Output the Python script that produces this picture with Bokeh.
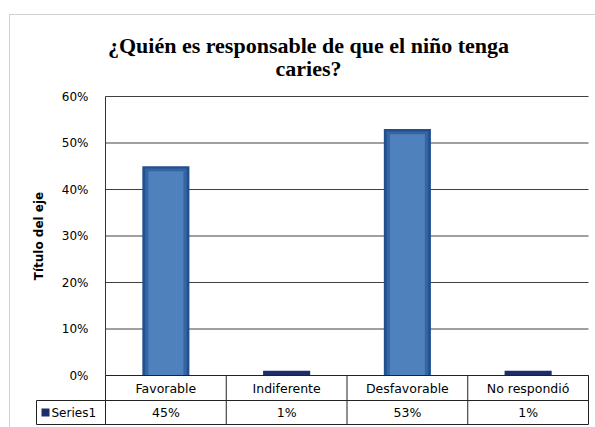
import numpy as np
from bokeh.plotting import figure
from bokeh.models import (Range1d, FixedTicker, NumeralTickFormatter, LinearAxis,
                          BoxAnnotation, Label, ColumnDataSource)
from bokeh.core.properties import value
from bokeh.embed import file_html
from bokeh.resources import INLINE

# ---- data ----
title_lines = ["¿Quién es responsable de que el niño tenga", "caries?"]
categories = ["Favorable", "Indiferente", "Desfavorable", "No respondió"]
values = [0.45, 0.01, 0.53, 0.01]
y_ticks = [0.0, 0.1, 0.2, 0.3, 0.4, 0.5, 0.6]
series_name = "Series1"
y_axis_title = "Título del eje"

# ---- layout (page pixels -> data units) ----
W, H = 595, 427
PLOT_L, PLOT_R, PLOT_T, PLOT_B = 105, 588, 96, 375
n = len(categories)
PXX = (PLOT_R - PLOT_L) / n            # px per category
PXY = (PLOT_B - PLOT_T) / y_ticks[-1]  # px per y unit

def dx(px):
    return (px - PLOT_L) / PXX

def dy(py):
    return (PLOT_B - py) / PXY

ROW_SPLIT = dy(400)
TABLE_BOTTOM = dy(424)
SERIF = "'Liberation Serif', 'Times New Roman', Times, serif"

p = figure(width=W, height=H,
           x_range=Range1d(dx(0), dx(W)), y_range=Range1d(dy(H), dy(0)),
           output_backend="svg", toolbar_location=None,
           x_axis_location=None, y_axis_location=None,
           min_border=0, min_border_left=0, min_border_right=0,
           min_border_top=0, min_border_bottom=0)
p.outline_line_color = None
p.background_fill_color = "white"
p.border_fill_color = "white"
p.xgrid.visible = False
p.ygrid.visible = False

# category positions from the category index
xs = np.arange(n) + 0.5

# ---- gridlines ----
p.segment(x0=[0] * len(y_ticks), x1=[n] * len(y_ticks), y0=y_ticks, y1=y_ticks,
          line_color="#404040", line_width=1)

# ---- y axis ----
ax = LinearAxis(fixed_location=0, bounds=(0, y_ticks[-1]))
ax.ticker = FixedTicker(ticks=y_ticks)
ax.formatter = NumeralTickFormatter(format="0%")
ax.major_tick_line_color = None
ax.minor_tick_line_color = None
ax.major_tick_out = 0
ax.major_tick_in = 0
ax.major_label_standoff = 17
ax.major_label_text_font = "DejaVu Sans"
ax.major_label_text_font_size = "12px"
ax.major_label_text_color = "black"
ax.axis_line_color = "#333333"
ax.axis_label = y_axis_title
ax.axis_label_text_font = "DejaVu Sans"
ax.axis_label_text_font_style = "bold"
ax.axis_label_text_font_size = "12px"
ax.axis_label_text_color = "black"
ax.axis_label_standoff = 13
p.add_layout(ax, "left")

# ---- bars (layered to imitate the gradient) ----
v = np.array(values)
big = v > 0.02
src = ColumnDataSource(dict(
    x=xs,
    top=v,
    top2=np.where(big, v - 0.005, 0.0),
    top3=np.where(big, v - 0.011, 0.0),
    c1=np.where(big, "#22508E", "#1C2D6B"),
))
p.vbar(x="x", top="top", bottom=0, width=0.39, source=src,
       fill_color="c1", line_color=None)
p.vbar(x="x", top="top2", bottom=0, width=0.345, source=src,
       fill_color="#3565A4", line_color=None)
p.vbar(x="x", top="top3", bottom=0, width=0.29, source=src,
       fill_color="#4F81BD", line_color=None)

# ---- data table below the plot ----
bounds = list(range(n + 1))
p.segment(x0=bounds, x1=bounds, y0=[0] * (n + 1), y1=[TABLE_BOTTOM] * (n + 1),
          line_color="#222222", line_width=1)
p.segment(x0=[0, dx(36), dx(36)], x1=[n, n, n], y0=[0, ROW_SPLIT, TABLE_BOTTOM],
          y1=[0, ROW_SPLIT, TABLE_BOTTOM], line_color="#222222", line_width=1)
p.segment(x0=[dx(36)], x1=[dx(36)], y0=[ROW_SPLIT], y1=[TABLE_BOTTOM],
          line_color="#222222", line_width=1)

row1 = (0 + ROW_SPLIT) / 2
row2 = (ROW_SPLIT + TABLE_BOTTOM) / 2
p.text(x=xs, y=[row1] * n, text=categories, text_align="center",
       text_baseline="middle", text_font=value("DejaVu Sans"),
       text_font_size="12.5px", text_color="black")
p.text(x=xs, y=[row2] * n, text=[f"{round(x * 100)}%" for x in values],
       text_align="center", text_baseline="middle", text_font=value("DejaVu Sans"),
       text_font_size="12.5px", text_color="black")

# header cell legend key
p.rect(x=[dx(45)], y=[row2], width=8 / PXX, height=8 / PXY,
       fill_color="#1C2D6B", line_color=None)
p.text(x=[dx(51)], y=[row2], text=[series_name], text_align="left",
       text_baseline="middle", text_font=value("DejaVu Sans"),
       text_font_size="12px", text_color="black")

# ---- title ----
for i, line in enumerate(title_lines):
    p.add_layout(Label(x=dx(308), y=dy(45 + 23 * i), text=line, text_align="center",
                       text_baseline="alphabetic", text_font=SERIF,
                       text_font_style="bold", text_font_size="22px",
                       text_color="black"))

# ---- outer chart border ----
p.add_layout(BoxAnnotation(left=dx(9), right=dx(W + 20), top=dy(14), bottom=dy(H + 20),
                           fill_alpha=0, line_color="#666666", line_width=1,
                           level="overlay"))

open("out.html", "w").write(file_html(p, INLINE))
